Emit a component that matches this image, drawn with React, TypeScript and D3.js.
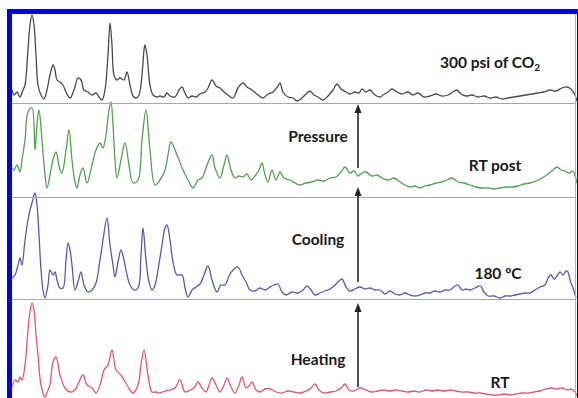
import React, { useEffect, useRef } from 'react';
import * as d3 from 'd3';

const width = 578;
const height = 398;

// patterns: [2θ (deg), intensity (a.u.)]
const co2Pattern: [number, number][] = [
  [4.0, 13], [4.2, 8], [4.5, 11], [4.8, 6], [5.1, 13], [5.3, 18], [5.6, 53], [5.8, 78], [6.0, 88], [6.2, 78],
  [6.4, 48], [6.6, 18], [6.9, 8], [7.2, 4], [7.5, 13], [7.8, 28], [8.1, 38], [8.3, 33], [8.5, 23], [8.8, 21],
  [9.1, 18], [9.4, 11], [9.8, 5], [10.2, 13], [10.6, 25], [10.9, 23], [11.2, 13], [11.6, 11], [12.0, 8], [12.4, 10],
  [12.7, 6], [13.0, 3], [13.3, 13], [13.6, 48], [13.8, 80], [14.0, 58], [14.2, 28], [14.5, 23], [14.8, 25], [15.2, 23],
  [15.5, 31], [15.8, 18], [16.1, 7], [16.4, 5], [16.7, 8], [17.0, 28], [17.2, 53], [17.3, 58], [17.5, 48], [17.8, 18],
  [18.1, 8], [18.5, 6], [18.8, 7], [19.2, 6], [19.5, 10], [19.8, 7], [20.3, 6], [20.7, 13], [21.0, 16], [21.3, 10],
  [21.6, 5], [22.0, 7], [22.4, 6], [22.8, 9], [23.3, 11], [23.6, 15], [24.0, 23], [24.4, 17], [24.8, 15], [25.2, 11],
  [25.6, 8], [26.1, 5], [26.6, 15], [27.1, 20], [27.5, 16], [28.0, 13], [28.6, 8], [29.1, 5], [29.6, 9], [30.1, 11],
  [30.6, 17], [30.8, 20], [31.1, 11], [31.6, 6], [32.1, 5], [32.5, 2], [33.0, 5], [33.4, 9], [33.8, 12], [34.2, 8],
  [34.6, 6], [35.1, 3], [35.6, 7], [36.1, 13], [36.5, 19], [36.9, 14], [37.4, 11], [37.8, 9], [38.3, 11], [38.7, 10],
  [39.0, 14], [39.4, 11], [39.8, 13], [40.3, 8], [40.8, 6], [41.1, 8], [41.6, 11], [42.0, 14], [42.5, 11], [43.0, 9],
  [43.6, 11], [44.1, 8], [44.6, 10], [45.2, 6], [45.8, 7], [46.4, 9], [47.0, 7], [47.6, 8], [48.1, 11], [48.5, 13],
  [48.9, 9], [49.4, 7], [50.0, 8], [50.6, 6], [51.2, 7], [51.8, 5], [52.4, 6], [53.0, 4], [53.6, 5], [54.2, 6],
  [54.8, 7], [55.4, 8], [56.0, 9], [56.6, 10], [57.2, 11], [57.8, 13], [58.4, 12], [59.0, 15], [59.5, 16], [59.9, 14],
  [60.2, 10], [60.5, 2],
];

const rtPostPattern: [number, number][] = [
  [4.0, 29], [4.2, 27], [4.5, 32], [4.8, 25], [5.0, 37], [5.3, 57], [5.6, 85], [6.0, 89], [6.3, 47], [6.5, 72],
  [6.7, 87], [7.0, 57], [7.3, 22], [7.5, 9], [7.8, 22], [8.1, 37], [8.4, 45], [8.8, 27], [9.0, 24], [9.4, 47],
  [9.7, 67], [10.0, 37], [10.3, 15], [10.5, 9], [10.8, 22], [11.1, 29], [11.5, 14], [12.0, 32], [12.4, 47], [12.8, 54],
  [13.1, 49], [13.4, 62], [13.7, 87], [13.9, 95], [14.1, 72], [14.3, 37], [14.5, 19], [14.9, 37], [15.3, 54], [15.7, 32],
  [16.1, 14], [16.6, 17], [17.0, 57], [17.4, 87], [17.8, 47], [18.3, 12], [18.8, 17], [19.3, 27], [19.6, 42], [19.9, 55],
  [20.5, 42], [21.1, 27], [21.6, 17], [22.1, 9], [22.6, 17], [23.0, 19], [23.4, 29], [23.7, 37], [24.0, 42], [24.3, 29],
  [24.8, 19], [25.2, 32], [25.5, 42], [25.9, 27], [26.3, 19], [26.7, 21], [27.1, 20], [27.5, 23], [27.9, 17], [28.3, 21],
  [28.7, 27], [29.0, 34], [29.3, 22], [29.6, 15], [30.0, 27], [30.4, 17], [30.8, 25], [31.2, 19], [31.8, 17], [32.3, 14],
  [32.8, 12], [33.4, 14], [34.0, 15], [34.6, 17], [35.2, 16], [35.8, 19], [36.4, 20], [36.9, 25], [37.3, 30], [37.8, 24],
  [38.2, 26], [38.6, 21], [39.0, 24], [39.4, 25], [40.0, 21], [40.5, 22], [41.0, 19], [41.6, 17], [42.2, 19], [42.8, 15],
  [43.3, 12], [43.8, 10], [44.3, 11], [44.8, 9], [45.3, 11], [45.8, 12], [46.4, 14], [47.0, 15], [47.5, 17], [48.0, 19],
  [48.6, 15], [49.2, 14], [49.8, 12], [50.4, 10], [51.0, 9], [51.6, 9], [52.2, 8], [52.8, 9], [53.4, 10], [54.0, 10],
  [54.6, 11], [55.2, 13], [55.8, 14], [56.4, 16], [57.0, 19], [57.6, 23], [58.1, 27], [58.5, 30], [58.9, 27], [59.3, 26],
  [59.7, 24], [60.1, 26], [60.3, 21], [60.5, 14],
];

const hotPattern: [number, number][] = [
  [4.0, 21], [4.3, 24], [4.6, 34], [4.8, 41], [5.0, 34], [5.3, 59], [5.6, 79], [5.8, 89], [6.0, 96], [6.2, 104],
  [6.3, 106], [6.5, 94], [6.7, 64], [6.9, 29], [7.1, 9], [7.3, 1], [7.6, 14], [7.8, 29], [8.1, 24], [8.3, 27],
  [8.5, 19], [8.8, 11], [9.1, 11], [9.4, 39], [9.6, 56], [9.8, 49], [10.0, 34], [10.3, 9], [10.6, 17], [10.9, 27],
  [11.2, 14], [11.6, 7], [12.0, 9], [12.4, 16], [12.8, 39], [13.1, 59], [13.5, 81], [13.8, 54], [14.1, 34], [14.3, 22],
  [14.6, 37], [14.9, 49], [15.2, 39], [15.5, 24], [15.8, 14], [16.2, 9], [16.6, 11], [16.9, 44], [17.1, 71], [17.4, 39],
  [17.7, 17], [18.0, 9], [18.3, 14], [18.6, 29], [19.0, 54], [19.3, 71], [19.5, 74], [19.8, 59], [20.1, 37], [20.5, 24],
  [21.0, 24], [21.3, 11], [21.6, 2], [22.0, 9], [22.4, 12], [22.8, 15], [23.2, 24], [23.6, 33], [24.0, 19], [24.5, 7],
  [24.9, 14], [25.3, 14], [25.7, 23], [26.1, 29], [26.6, 32], [27.0, 24], [27.4, 17], [27.8, 9], [28.3, 8], [28.8, 11],
  [29.3, 9], [29.8, 12], [30.2, 14], [30.6, 15], [31.0, 7], [31.4, 4], [32.0, 7], [32.6, 6], [33.1, 9], [33.5, 13],
  [33.9, 9], [34.3, 4], [34.8, 6], [35.3, 8], [35.8, 10], [36.3, 14], [36.7, 18], [37.0, 20], [37.4, 12], [37.8, 8],
  [38.3, 10], [38.8, 12], [39.3, 10], [39.8, 11], [40.3, 9], [40.8, 9], [41.3, 5], [41.8, 8], [42.3, 5], [42.8, 4],
  [43.3, 6], [43.8, 4], [44.3, 3], [44.8, 4], [45.3, 6], [45.8, 6], [46.3, 8], [46.8, 7], [47.3, 9], [47.8, 9],
  [48.3, 13], [48.6, 14], [49.0, 9], [49.4, 10], [49.8, 9], [50.3, 11], [50.8, 13], [51.2, 7], [51.6, 3], [52.2, 3],
  [52.8, 1], [53.3, 3], [53.8, 3], [54.3, 4], [54.8, 5], [55.3, 6], [55.8, 6], [56.3, 9], [56.8, 12], [57.3, 14],
  [57.6, 21], [57.9, 24], [58.2, 20], [58.5, 23], [58.8, 27], [59.1, 24], [59.4, 28], [59.6, 27], [59.8, 19], [60.1, 11],
  [60.4, 1],
];

const rtPattern: [number, number][] = [
  [4.0, 11], [4.3, 18], [4.6, 16], [4.8, 21], [5.0, 18], [5.3, 33], [5.6, 68], [5.8, 86], [6.0, 95], [6.2, 88],
  [6.4, 63], [6.6, 43], [6.9, 13], [7.3, 1], [7.6, 8], [7.8, 13], [8.1, 36], [8.4, 41], [8.8, 23], [9.3, 10],
  [9.8, 6], [10.3, 8], [10.7, 16], [11.1, 23], [11.5, 13], [12.0, 10], [12.4, 5], [12.8, 13], [13.2, 28], [13.6, 33],
  [14.0, 48], [14.4, 28], [14.9, 23], [15.5, 13], [16.1, 5], [16.6, 13], [16.9, 33], [17.2, 48], [17.6, 23], [18.0, 6],
  [18.4, 6], [18.8, 5], [19.3, 7], [19.8, 8], [20.3, 10], [20.8, 18], [21.3, 6], [21.8, 8], [22.2, 10], [22.6, 16],
  [23.0, 10], [23.4, 6], [23.7, 13], [24.0, 20], [24.4, 13], [24.8, 6], [25.2, 13], [25.5, 20], [25.9, 11], [26.3, 5],
  [26.7, 13], [27.0, 21], [27.4, 10], [27.7, 12], [28.0, 16], [28.4, 8], [28.8, 6], [29.3, 9], [29.8, 9], [30.4, 6],
  [31.0, 5], [31.6, 7], [32.2, 6], [32.8, 5], [33.4, 7], [33.9, 10], [34.3, 14], [34.7, 8], [35.2, 5], [35.8, 6],
  [36.4, 7], [36.9, 10], [37.3, 14], [37.7, 8], [38.2, 7], [38.8, 10], [39.4, 8], [40.0, 6], [40.6, 7], [41.2, 8],
  [41.8, 7], [42.4, 8], [43.0, 7], [43.6, 6], [44.2, 7], [44.8, 6], [45.4, 8], [46.0, 7], [46.6, 8], [47.2, 7],
  [47.8, 8], [48.4, 7], [49.0, 6], [49.6, 6], [50.2, 5], [50.8, 5], [51.4, 4], [52.0, 3], [52.6, 3], [53.2, 4],
  [53.8, 3], [54.4, 4], [55.0, 5], [55.6, 5], [56.2, 6], [56.8, 7], [57.4, 9], [58.0, 10], [58.5, 9], [59.0, 10],
  [59.5, 8], [59.9, 9], [60.3, 6], [60.5, 2],
];

const sampleLabels = ['300 psi of CO', 'RT post', '180 ºC', 'RT'];
const stepLabels = ['Pressure', 'Cooling', 'Heating'];

const App = () => {
  const svgRef = useRef(null);

  useEffect(() => {
    const svg = d3.select(svgRef.current);
    svg.selectAll('*').remove();

    // stacked panels, top to bottom (pixel bottoms of each strip)
    const panels = [
      { data: co2Pattern, color: '#4a4a4a', bottom: 103, label: sampleLabels[0], lx: 51.8, ly: 35 },
      { data: rtPostPattern, color: '#52a052', bottom: 197, label: sampleLabels[1], lx: 52.3, ly: 26 },
      { data: hotPattern, color: '#5858b0', bottom: 299, label: sampleLabels[2], lx: 52.6, ly: 20 },
      { data: rtPattern, color: '#e0586c', bottom: 398, label: sampleLabels[3], lx: 52.8, ly: 10 },
    ];

    const x = d3.scaleLinear().domain([4, 60.5]).range([12, 577]);
    const yFor = (bottom: number) => d3.scaleLinear().domain([0, 100]).range([bottom, bottom - 100]);

    svg.append('rect').attr('width', width).attr('height', height).attr('fill', 'white');

    // traces
    panels.forEach(p => {
      const y = yFor(p.bottom);
      const line = d3.line<[number, number]>()
        .x(d => x(d[0])).y(d => y(d[1]))
        .curve(d3.curveCatmullRom.alpha(0.5));
      svg.append('path')
        .datum(p.data)
        .attr('d', line)
        .attr('fill', 'none')
        .attr('stroke', p.color)
        .attr('stroke-width', 1.3)
        .attr('stroke-linejoin', 'round');
    });

    // strip separators + right edge
    panels.slice(0, 3).forEach(p => {
      svg.append('line')
        .attr('x1', 12).attr('x2', 576)
        .attr('y1', p.bottom + 0.5).attr('y2', p.bottom + 0.5)
        .attr('stroke', '#a8a8a0').attr('stroke-width', 1);
    });
    svg.append('line')
      .attr('x1', 575.5).attr('x2', 575.5).attr('y1', 14).attr('y2', height)
      .attr('stroke', '#b0b0b0').attr('stroke-width', 1);

    // sample labels
    panels.forEach((p, i) => {
      const y = yFor(p.bottom);
      const t = svg.append('text')
        .attr('x', x(p.lx)).attr('y', y(p.ly))
        .attr('text-anchor', 'middle')
        .attr('font-family', 'Lato, "Open Sans", sans-serif')
        .attr('font-weight', 'bold')
        .attr('font-size', 15.5)
        .attr('fill', '#1a1a1a')
        .text(p.label);
      if (i === 0) {
        t.append('tspan').attr('font-size', 10).attr('dy', 3).text('2');
      }
    });

    // process arrows (tail / tip intensity in the strip they sit in)
    const arrows = [
      { panel: 1, from: 29, to: 93, label: stepLabels[0], ly: 55 },
      { panel: 2, from: 17, to: 112, label: stepLabels[1], ly: 54 },
      { panel: 3, from: 11, to: 95, label: stepLabels[2], ly: 33 },
    ];
    const arrowX = x(38.6);
    arrows.forEach(a => {
      const y = yFor(panels[a.panel].bottom);
      const y0 = y(a.from);
      const y1 = y(a.to);
      svg.append('line')
        .attr('x1', arrowX).attr('x2', arrowX)
        .attr('y1', y0).attr('y2', y1 + 6)
        .attr('stroke', '#222').attr('stroke-width', 1.6);
      svg.append('path')
        .attr('d', `M${arrowX},${y1} L${arrowX - 3.5},${y1 + 9} L${arrowX + 3.5},${y1 + 9} Z`)
        .attr('fill', '#222');
      svg.append('text')
        .attr('x', x(34.6)).attr('y', y(a.ly))
        .attr('text-anchor', 'middle')
        .attr('font-family', 'Lato, "Open Sans", sans-serif')
        .attr('font-weight', 'bold')
        .attr('font-size', 15.5)
        .attr('fill', '#1a1a1a')
        .text(a.label);
    });

    // blue frame
    svg.append('rect')
      .attr('x', 9.5).attr('y', 11.5)
      .attr('width', 570).attr('height', 400)
      .attr('fill', 'none')
      .attr('stroke', '#0000f0')
      .attr('stroke-width', 5);
  }, []);

  return (
    <svg ref={svgRef} width={width} height={height}
      style={{ position: 'absolute', left: 0, top: 0 }} />
  );
};

export default App;
